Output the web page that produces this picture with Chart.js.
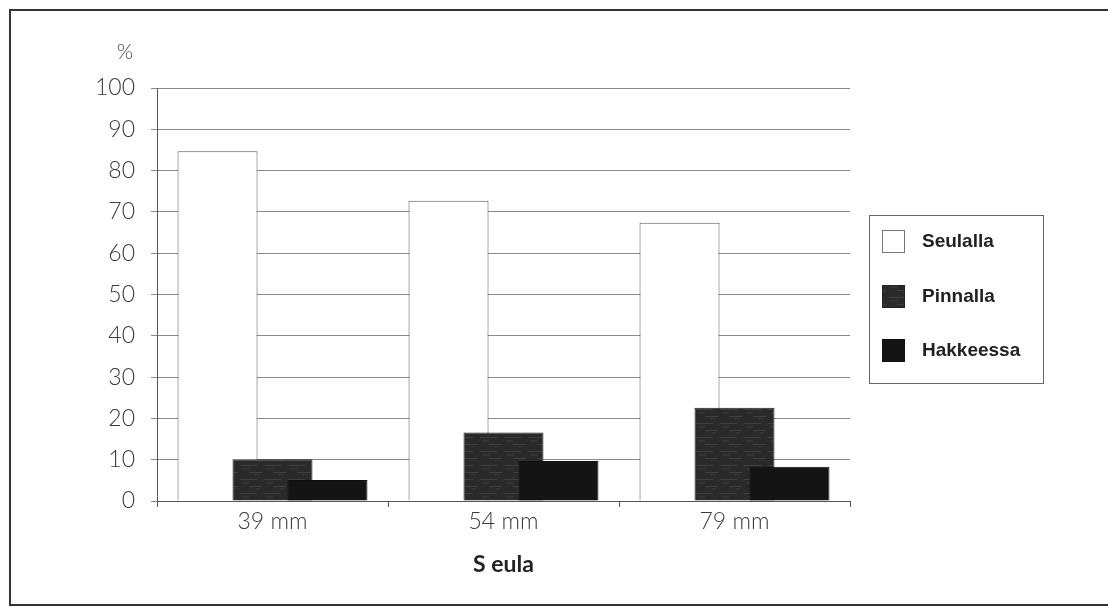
<!DOCTYPE html>
<html>
<head>
<meta charset="utf-8">
<title>Seula</title>
<script src="https://cdn.jsdelivr.net/npm/chart.js@4.4.1/dist/chart.umd.min.js"></script>
<style>
  body { margin: 0; background: #fff; }
</style>
</head>
<body>
<canvas id="myChart" width="1108" height="607"></canvas>
<script>
  //data
  var categories = ["39 mm", "54 mm", "79 mm"];
  var seriesNames = ["Seulalla", "Pinnalla", "Hakkeessa"];
  var seulalla = [84.7, 72.7, 67.4];
  var pinnalla = [10.1, 16.6, 22.6];
  var hakkeessa = [5.1, 9.7, 8.3];
  var yTickValues = [0, 10, 20, 30, 40, 50, 60, 70, 80, 90, 100];

  //streaky dark fill for Pinnalla (scan look)
  function streakPattern() {
    var c = document.createElement("canvas");
    c.width = 24;
    c.height = 14;
    var g = c.getContext("2d");
    g.fillStyle = "#2a2a2a";
    g.fillRect(0, 0, 24, 14);
    g.fillStyle = "#3e3e3e";
    g.fillRect(0, 3, 17, 1);
    g.fillRect(9, 10, 13, 1);
    g.fillStyle = "#343434";
    g.fillRect(3, 6, 6, 2);
    g.fillRect(15, 12, 5, 1);
    return g.createPattern(c, "repeat");
  }

  //draw datasets first-to-last so later series sit on top
  var drawOrder = {
    id: "drawOrder",
    beforeDatasetsDraw: function(chart) {
      var metas = chart.getSortedVisibleDatasetMetas();
      for (var i = 0; i < metas.length; i++) {
        metas[i].controller.draw();
      }
      return false;
    }
  };

  //frame, % label and boxed legend
  var decor = {
    id: "decor",
    afterDraw: function(chart) {
      var ctx = chart.ctx;
      ctx.save();
      ctx.strokeStyle = "#333";
      ctx.lineWidth = 2;
      ctx.strokeRect(10, 10, 1120, 595);

      ctx.fillStyle = "#444";
      ctx.font = "300 21px Lato";
      ctx.textAlign = "center";
      ctx.textBaseline = "middle";
      ctx.fillText("%", 125, 52);

      //legend box
      ctx.lineWidth = 1;
      ctx.strokeStyle = "#666";
      ctx.strokeRect(869.5, 215.5, 174, 168);
      var rowY = [241, 296, 350];
      ctx.font = "bold 19px 'Liberation Sans'";
      ctx.textAlign = "left";
      chart.data.datasets.forEach(function(ds, i) {
        ctx.fillStyle = ds.backgroundColor;
        ctx.fillRect(882, rowY[i] - 11, 23, 23);
        ctx.strokeStyle = i === 0 ? "#777" : ds.borderColor;
        ctx.strokeRect(882.5, rowY[i] - 10.5, 22, 22);
        ctx.fillStyle = "#222";
        ctx.fillText(ds.label, 922, rowY[i] + 1);
      });
      ctx.restore();
    }
  };

  var ctx = document.getElementById("myChart").getContext("2d");
  var chart = new Chart(ctx, {
    type: "bar",
    data: {
      labels: categories,
      datasets: [{
          label: seriesNames[0],
          data: seulalla,
          backgroundColor: "#ffffff",
          borderColor: "#555555",
          borderWidth: 1
        },
        {
          label: seriesNames[1],
          data: pinnalla,
          backgroundColor: streakPattern(),
          borderColor: "#222222",
          borderWidth: 1
        },
        {
          label: seriesNames[2],
          data: hakkeessa,
          backgroundColor: "#141414",
          borderColor: "#111111",
          borderWidth: 1
        }
      ]
    },
    options: {
      responsive: false,
      animation: false,
      categoryPercentage: 0.714,
      barPercentage: 1.455,
      layout: {
        padding: { top: 88, right: 258, left: 0, bottom: 0 }
      },
      plugins: {
        legend: { display: false },
        tooltip: { enabled: false }
      },
      scales: {
        x: {
          afterFit: function(scale) { scale.height = 106; },
          grid: {
            offset: true,
            drawOnChartArea: false,
            drawTicks: true,
            tickLength: 6,
            color: "#555"
          },
          border: { display: true, color: "#555" },
          ticks: {
            color: "#3a3a3a",
            padding: 1,
            font: { family: "Lato", size: 23, weight: "300" }
          },
          title: {
            display: true,
            text: "S eula",
            color: "#222",
            font: { family: "Lato", size: 23, weight: "bold" },
            padding: { top: 0, bottom: 29 }
          }
        },
        y: {
          min: 0,
          max: 100,
          afterFit: function(scale) { scale.width = 157; },
          afterBuildTicks: function(scale) {
            scale.ticks = yTickValues.map(function(v) { return { value: v }; });
          },
          grid: {
            color: "#8a8a8a",
            tickLength: 6
          },
          border: { display: true, color: "#555" },
          ticks: {
            color: "#3a3a3a",
            padding: 16,
            font: { family: "Lato", size: 23, weight: "300" }
          }
        }
      }
    },
    plugins: [drawOrder, decor]
  });
</script>
</body>
</html>
